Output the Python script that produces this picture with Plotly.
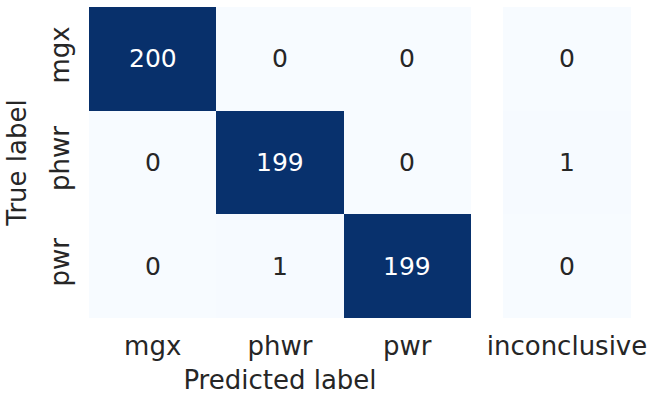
import plotly.graph_objects as go

# Confusion matrix: rows are true classes, columns are predicted classes
classes = ["mgx", "phwr", "pwr"]
extra_col = ["inconclusive"]
counts = [
    [200, 0, 0],
    [0, 199, 0],
    [0, 1, 199],
]
inconclusive = [[0], [1], [0]]

FONT = "DejaVu Sans"
TEXT = "#262626"
ZMAX = 200
FS = 26
FS_CELL = 25

fig = go.Figure()
fig.add_trace(go.Heatmap(
    z=counts, x=classes, y=classes, zmin=0, zmax=ZMAX,
    colorscale="Blues", showscale=False, xaxis="x", yaxis="y",
    hoverinfo="skip",
))
fig.add_trace(go.Heatmap(
    z=inconclusive, x=extra_col, y=classes, zmin=0, zmax=ZMAX,
    colorscale="Blues", showscale=False, xaxis="x2", yaxis="y",
    hoverinfo="skip",
))

annotations = []
for ri, row in enumerate(classes):
    for ci, col in enumerate(classes):
        v = counts[ri][ci]
        annotations.append(dict(
            x=col, y=row, xref="x", yref="y", text=str(v), showarrow=False,
            font=dict(family=FONT, size=FS_CELL, color="white" if v > ZMAX / 2 else TEXT),
        ))
    v = inconclusive[ri][0]
    annotations.append(dict(
        x=extra_col[0], y=row, xref="x2", yref="y", text=str(v), showarrow=False,
        font=dict(family=FONT, size=FS_CELL, color="white" if v > ZMAX / 2 else TEXT),
    ))

axis_common = dict(
    showgrid=False, zeroline=False, showline=False, ticks="",
    tickfont=dict(family=FONT, size=FS, color=TEXT), automargin=False,
)

fig.update_layout(
    width=648, height=397,
    margin=dict(l=89, r=17, t=7, b=79),
    paper_bgcolor="white", plot_bgcolor="white",
    font=dict(family=FONT, size=FS, color=TEXT),
    xaxis=dict(
        domain=[0, 0.7048], anchor="y", ticklabelstandoff=10,
        title=dict(text="Predicted label", font=dict(family=FONT, size=FS, color=TEXT), standoff=10),
        **axis_common,
    ),
    xaxis2=dict(domain=[0.7638, 1], anchor="y", ticklabelstandoff=10, **axis_common),
    yaxis=dict(
        autorange="reversed", tickangle=-90, ticklabelstandoff=14,
        title=dict(text="True label", font=dict(family=FONT, size=FS, color=TEXT), standoff=10),
        **axis_common,
    ),
    annotations=annotations,
)

fig.write_html("out.html")
